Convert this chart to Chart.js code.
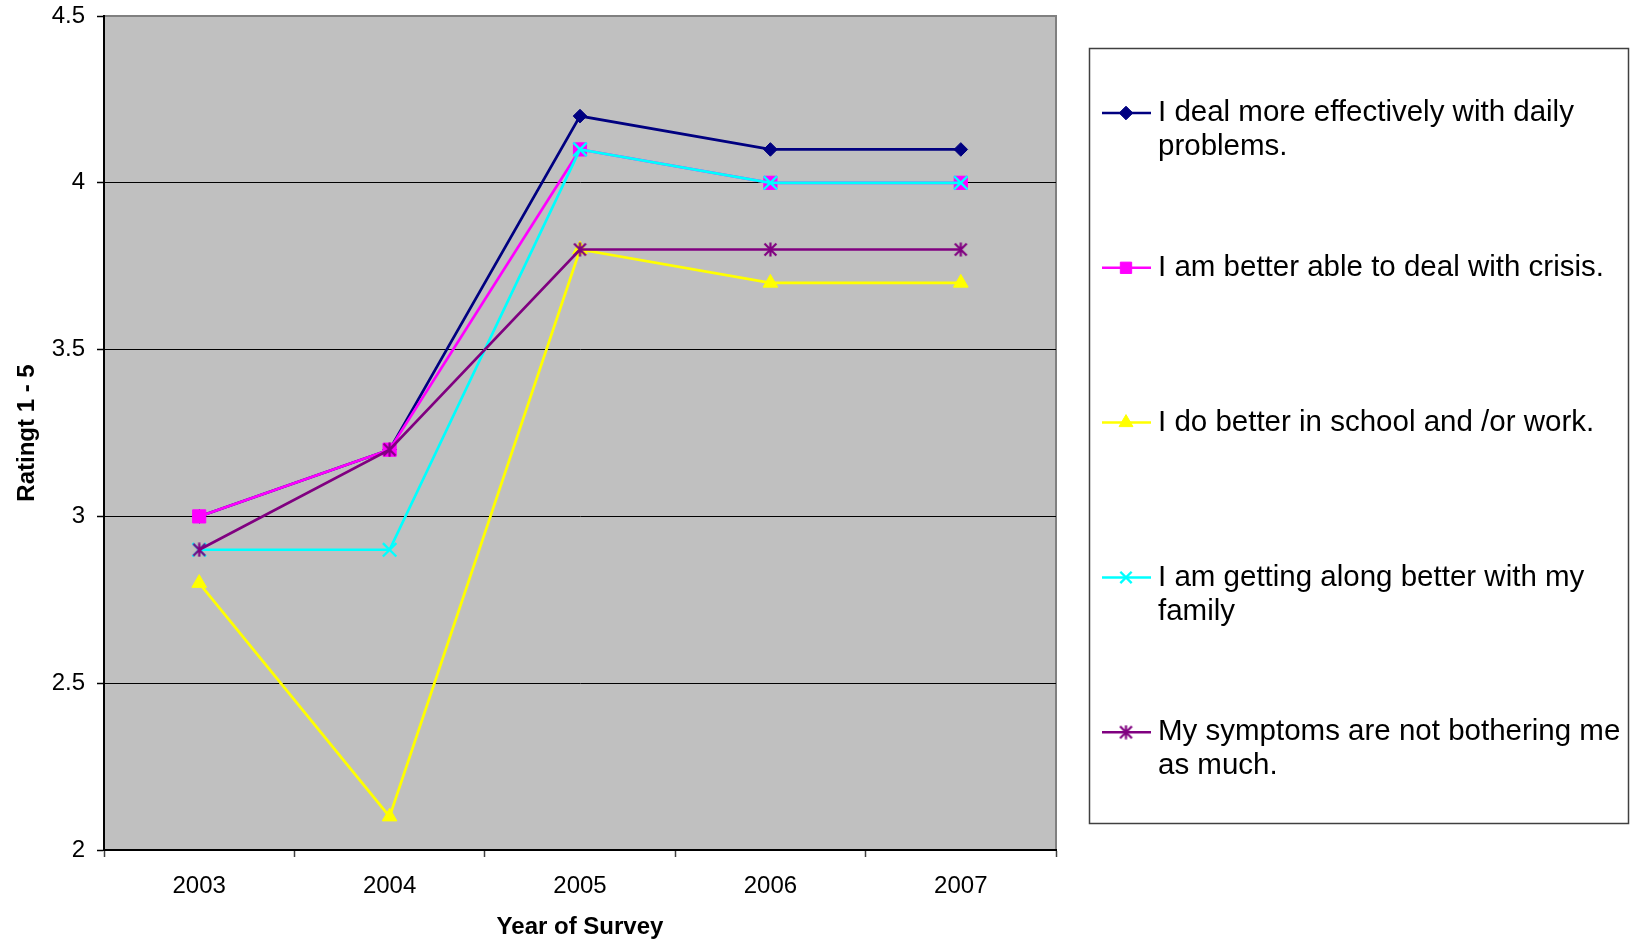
<!DOCTYPE html>
<html>
<head>
<meta charset="utf-8">
<script src="https://cdn.jsdelivr.net/npm/chart.js@4.4.0/dist/chart.umd.min.js"></script>
<style>
  html, body { margin: 0; padding: 0; background: #ffffff; }
  #wrap { width: 1633px; height: 942px; position: relative; }
</style>
</head>
<body>
<div id="wrap"><canvas id="c" width="1633" height="942"></canvas></div>
<script>
// Survey years (x categories)
const years = ['2003', '2004', '2005', '2006', '2007'];

// Statement labels, one per series
const seriesNames = [
  'I deal more effectively with daily problems.',
  'I am better able to deal with crisis.',
  'I do better in school and /or work.',
  'I am getting along better with my family',
  'My symptoms are not bothering me as much.'
];

// Average ratings (1 - 5 scale) per year
const dailyProblems = [3.0, 3.2, 4.2, 4.1, 4.1];
const crisis        = [3.0, 3.2, 4.1, 4.0, 4.0];
const schoolWork    = [2.8, 2.1, 3.8, 3.7, 3.7];
const family        = [2.9, 2.9, 4.1, 4.0, 4.0];
const symptoms      = [2.9, 3.2, 3.8, 3.8, 3.8];

// Value axis ticks
const yTicks = [2, 2.5, 3, 3.5, 4, 4.5];

const FONT = '"Liberation Sans", Arial, Helvetica, sans-serif';
Chart.defaults.font.family = FONT;
Chart.defaults.color = '#000000';

// Asterisk marker: vertical bar plus an X
function makeAsterisk(color, size, lw) {
  const cv = document.createElement('canvas');
  cv.width = size; cv.height = size;
  const g = cv.getContext('2d');
  const c = size / 2, r = size / 2 - 0.5;
  g.strokeStyle = color; g.lineWidth = lw; g.lineCap = 'butt';
  g.beginPath();
  g.moveTo(c, c - r); g.lineTo(c, c + r);
  const d = r * 0.85;
  g.moveTo(c - d, c - d); g.lineTo(c + d, c + d);
  g.moveTo(c - d, c + d); g.lineTo(c + d, c - d);
  g.stroke();
  return cv;
}
const asterisk = makeAsterisk('#800080', 15, 2.2);

const seriesValues = [dailyProblems, crisis, schoolWork, family, symptoms];
const seriesColors = ['#000080', '#FF00FF', '#FFFF00', '#00FFFF', '#800080'];
const seriesStyles = ['rectRot', 'rect', 'triangle', 'crossRot', asterisk];
const seriesRadius = [6.8, 9.3, 8.5, 9.5, 7.5];

const datasets = seriesValues.map((vals, i) => ({
  label: seriesNames[i],
  data: vals,
  borderColor: seriesColors[i],
  backgroundColor: seriesColors[i],
  borderWidth: 2.7,
  pointStyle: seriesStyles[i],
  pointRadius: seriesRadius[i],
  pointBorderWidth: seriesStyles[i] === 'crossRot' ? 2.4 : 1,
  pointBorderColor: seriesColors[i],
  pointBackgroundColor: seriesColors[i],
  tension: 0,
  fill: false,
  order: seriesValues.length - i   // later series drawn on top
}));

// Grey plot area with a grey frame on top/right
const plotBackground = {
  id: 'plotBackground',
  beforeDraw(chart) {
    const { ctx, chartArea: a } = chart;
    ctx.save();
    ctx.fillStyle = '#C0C0C0';
    ctx.fillRect(a.left, a.top, a.right - a.left, a.bottom - a.top);
    ctx.strokeStyle = '#808080';
    ctx.lineWidth = 2;
    ctx.beginPath();
    ctx.moveTo(a.left, a.top);
    ctx.lineTo(a.right, a.top);
    ctx.lineTo(a.right, a.bottom);
    ctx.stroke();
    ctx.restore();
  }
};

// Boxed legend on the right with wrapped labels
const boxedLegend = {
  id: 'boxedLegend',
  afterDraw(chart) {
    const ctx = chart.ctx;
    const box = { x: 1089, y: 48, w: 539, h: 775 };
    ctx.save();
    ctx.fillStyle = '#ffffff';
    ctx.fillRect(box.x, box.y, box.w, box.h);
    ctx.strokeStyle = '#404040';
    ctx.lineWidth = 1.5;
    ctx.strokeRect(box.x + 0.5, box.y + 0.5, box.w, box.h);

    const lineX0 = 1102, lineX1 = 1151, markX = 1126, textX = 1158;
    const maxW = box.x + box.w - textX;
    const firstY = 113, step = 154.8, lineH = 34;
    ctx.font = '29.5px ' + FONT;
    ctx.textBaseline = 'middle';
    ctx.textAlign = 'left';

    chart.data.datasets.forEach((ds, i) => {
      const y = firstY + i * step;
      ctx.strokeStyle = ds.borderColor;
      ctx.lineWidth = 2.5;
      ctx.beginPath();
      ctx.moveTo(lineX0, y); ctx.lineTo(lineX1, y);
      ctx.stroke();

      const opts = {
        pointStyle: ds.pointStyle,
        radius: Math.min(ds.pointRadius, 8),
        rotation: 0,
        borderWidth: ds.pointBorderWidth
      };
      ctx.fillStyle = ds.pointBackgroundColor;
      ctx.strokeStyle = ds.pointBorderColor;
      ctx.lineWidth = ds.pointBorderWidth;
      Chart.helpers.drawPoint(ctx, opts, markX, y);

      // wrap label into lines
      const words = ds.label.split(' ');
      const lines = [];
      let cur = '';
      words.forEach(w => {
        const t = cur ? cur + ' ' + w : w;
        if (ctx.measureText(t).width > maxW && cur) { lines.push(cur); cur = w; }
        else cur = t;
      });
      if (cur) lines.push(cur);
      ctx.fillStyle = '#000000';
      lines.forEach((ln, k) => ctx.fillText(ln, textX, y + k * lineH));
    });
    ctx.restore();
  }
};

new Chart(document.getElementById('c'), {
  type: 'line',
  data: { labels: years, datasets },
  options: {
    responsive: false,
    animation: false,
    events: [],
    layout: { padding: { left: 0, right: 577, top: 16, bottom: 0 } },
    plugins: {
      legend: { display: false },
      tooltip: { enabled: false }
    },
    scales: {
      x: {
        offset: true,
        grid: {
          offset: true,
          drawOnChartArea: false,
          drawTicks: true,
          tickLength: 7,
          tickColor: '#404040',
          tickWidth: 1.5
        },
        border: { display: true, color: '#000000', width: 2 },
        ticks: { font: { size: 24 }, color: '#000000', padding: 15, maxRotation: 0 },
        title: {
          display: true,
          text: 'Year of Survey',
          font: { size: 24, weight: 'bold' },
          color: '#000000',
          padding: { top: 0, bottom: 0.6 }
        },
        afterFit(scale) { scale.height = 92; scale.paddingLeft = 0; scale.paddingRight = 0; }
      },
      y: {
        min: yTicks[0],
        max: yTicks[yTicks.length - 1],
        afterBuildTicks(scale) { scale.ticks = yTicks.map(v => ({ value: v })); },
        grid: {
          color: ctx => (ctx.tick && ctx.tick.value === yTicks[yTicks.length - 1]) ? '#808080' : '#000000',
          lineWidth: 1,
          drawTicks: true,
          tickLength: 7,
          tickColor: '#000000',
          tickWidth: 1.5
        },
        border: { display: true, color: '#000000', width: 2 },
        ticks: {
          font: { size: 24 },
          color: '#000000',
          padding: 12,
          callback: v => String(v)
        },
        title: {
          display: true,
          text: 'Ratingt 1 - 5',
          font: { size: 24, weight: 'bold' },
          color: '#000000',
          padding: { top: 12.6, bottom: 0 }
        },
        afterFit(scale) { scale.width = 104; scale.paddingTop = 0; scale.paddingBottom = 0; }
      }
    }
  },
  plugins: [plotBackground, boxedLegend]
});
</script>
</body>
</html>
